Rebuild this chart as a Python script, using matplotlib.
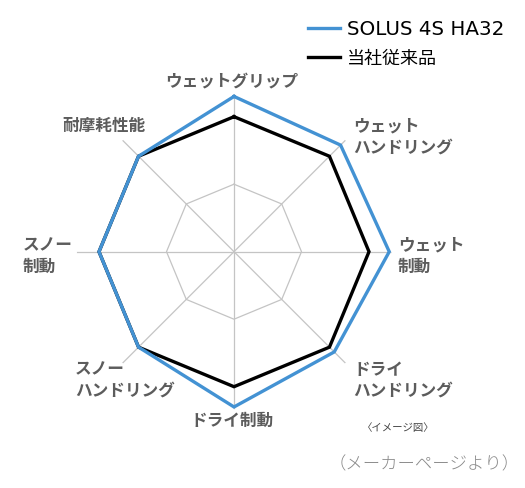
import numpy as np
import matplotlib
matplotlib.use("Agg")
import matplotlib.pyplot as plt
from matplotlib.lines import Line2D

plt.rcParams['font.family'] = ['Noto Sans CJK JP', 'DejaVu Sans']

# ---- data ----
categories = ["ウェットグリップ", "ウェット\nハンドリング", "ウェット\n制動", "ドライ\nハンドリング",
              "ドライ制動", "スノー\nハンドリング", "スノー\n制動", "耐摩耗性能"]
solus_4s = [6.9, 6.7, 6.9, 6.3, 6.9, 6.0, 6.0, 6.0]
conventional = [6.0, 6.0, 6.0, 6.0, 6.0, 6.0, 6.0, 6.0]
series_names = ["SOLUS 4S HA32", "当社従来品"]
grid_rings = [3]
r_max = 7

# ---- layout ----
W, H = 525, 489
fig = plt.figure(figsize=(W / 100, H / 100), dpi=100)
cx, cy, R = 234, 252.7, 157.5
ax = fig.add_axes([(cx - R) / W, (H - cy - R) / H, 2 * R / W, 2 * R / H], projection='polar')
ax.set_theta_zero_location('N')
ax.set_theta_direction(-1)
ax.set_ylim(0, r_max)
ax.set_axis_off()

n = len(categories)
theta = np.arange(n) * 2 * np.pi / n
theta_c = np.append(theta, theta[0])

grid_col = '#c4c4c4'
for t in theta:
    ax.plot([t, t], [0, r_max], color=grid_col, lw=0.9, zorder=1)
for ring in grid_rings:
    ax.plot(theta_c, [ring] * (n + 1), color=grid_col, lw=0.9, zorder=1)

ax.plot(theta_c, conventional + conventional[:1], color='black', lw=2.4, zorder=3,
        solid_joinstyle='miter')
ax.plot(theta_c, solus_4s + solus_4s[:1], color='#4392d3', lw=2.4, zorder=4,
        solid_joinstyle='miter')

# category labels (pixel anchors, from top-left)
label_pos = [(232, 82, 'center'), (353, 137, 'left'), (398, 256, 'left'), (353, 380, 'left'),
             (232, 421, 'center'), (75, 380, 'left'), (23, 256, 'left'), (104, 126, 'center')]
lab_col = '#5c5c5c'
for lab, (px, py, ha) in zip(categories, label_pos):
    fig.text(px / W, 1 - py / H, lab, ha=ha, va='center', fontsize=12, color=lab_col,
             linespacing=1.2, fontweight='bold')

# legend
handles = [Line2D([], [], color='#4392d3', lw=2.4), Line2D([], [], color='black', lw=2.4)]
leg = fig.legend(handles, series_names, loc='upper left', bbox_to_anchor=(308 / W, 1 - 20 / H),
                 frameon=False, handlelength=1.78, handletextpad=0.4,
                 labelspacing=0.6, borderpad=0, borderaxespad=0,
                 prop={'family': ['DejaVu Sans', 'Noto Sans CJK JP'], 'size': 13})
legend_sizes = [14.3, 13]
for t, s in zip(leg.get_texts(), legend_sizes):
    t.set_color('black')
    t.set_fontsize(s)

fig.text(398 / W, 1 - 428 / H, "〈イメージ図〉", ha='center', va='center', fontsize=7.5, color='#444444')
fig.text(424 / W, 1 - 464 / H, "（メーカーページより）", ha='center', va='center', fontsize=12.5,
         color='#8a8a8a', fontweight='light')

fig.savefig('out.png', dpi=100)
